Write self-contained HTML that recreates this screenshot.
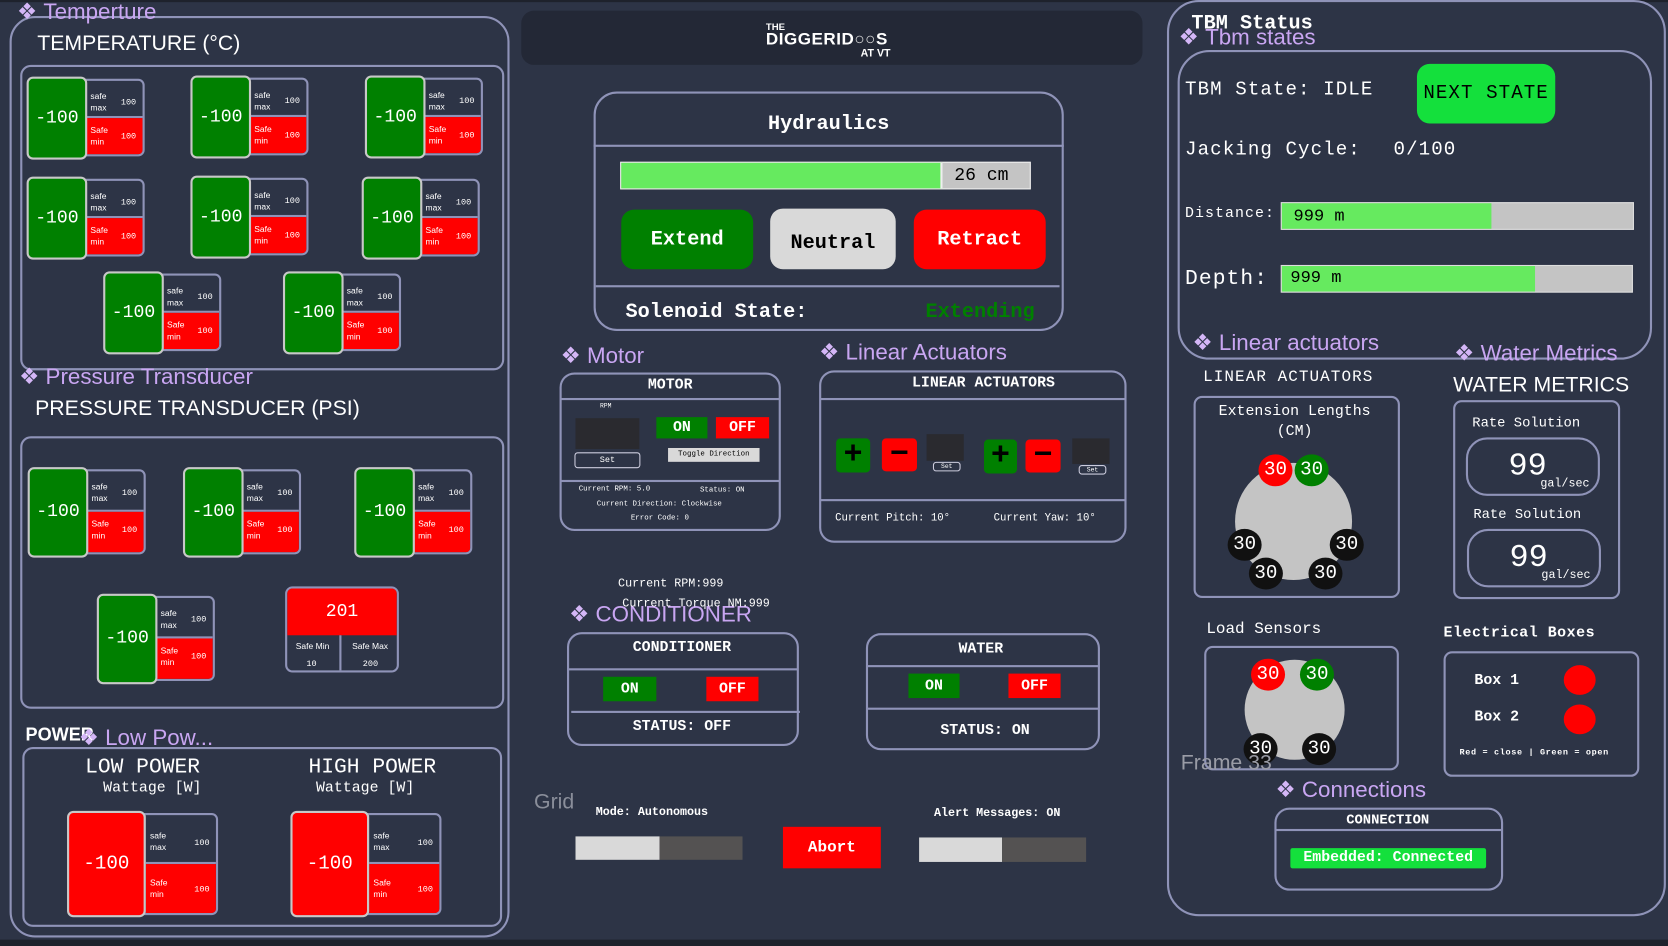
<!DOCTYPE html>
<html><head><meta charset="utf-8">
<style>
html,body{margin:0;padding:0;width:1668px;height:946px;overflow:hidden;background:#2d3446;}
#w{position:absolute;left:0;top:0;width:1568px;height:889px;transform:scale(1.06378,1.06412);transform-origin:0 0;background:#2d3446;font-family:"Liberation Mono",monospace;color:#fff;}
.a{position:absolute;}
.bx{position:absolute;border:2px solid #8f93b8;box-sizing:border-box;}
.lbl{position:absolute;font-family:"Liberation Sans",sans-serif;color:#c9a6f2;font-size:21px;white-space:nowrap;line-height:1;}
.lbl i{font-style:normal;color:#d4b6f7;font-size:21px;margin-right:6px;}
.t{position:absolute;white-space:nowrap;line-height:1;}
.hl{position:absolute;height:2px;background:#8f93b8;}
.g{position:absolute;width:112px;height:78px;}
.gv{position:absolute;left:0;top:0;width:57px;height:78px;background:#008000;border:2px solid #c8c8c8;box-sizing:border-box;border-radius:6px;font-size:17px;display:flex;align-items:center;justify-content:center;z-index:2;}
.gs{position:absolute;left:54px;top:2px;width:57px;height:73px;border:2px solid #8f93b8;box-sizing:border-box;border-radius:0 6px 6px 0;overflow:hidden;}
.gt,.gb{position:absolute;left:0;width:100%;height:50%;font-family:"Liberation Sans",sans-serif;font-size:8px;}
.gt{top:0;border-bottom:2px solid #8f93b8;box-sizing:border-box;}
.gb{top:50%;background:#ff0000;}
.gt span,.gb span{position:absolute;left:4px;top:9px;line-height:11px;}
.gb span{top:6px;}
.gt b,.gb b{position:absolute;right:6px;top:16px;font-family:"Liberation Mono",monospace;font-weight:normal;font-size:8px;}
.gb b{top:13px;}
.gr .gv{background:#ff0000;}
.big{width:142px;height:100px;}
.big .gv{width:74px;height:100px;font-size:18px;}
.big .gs{left:72px;top:2px;width:70px;height:96px;}
.big .gt span{top:14px}.big .gt b{top:22px}.big .gb span{top:12px}.big .gb b{top:20px}
.btn{position:absolute;display:flex;align-items:center;justify-content:center;font-weight:bold;}
.c{position:absolute;width:32px;height:30px;border-radius:50%;display:flex;align-items:center;justify-content:center;font-size:18px;color:#fff;}
</style></head><body><div id="w">
<div class="a" style="left:0;top:0;width:1568px;height:2px;background:#1e222c"></div>
<div class="a" style="left:0;top:883px;width:1568px;height:6px;background:#1e222c"></div>

<!-- LEFT -->
<div class="bx" style="left:9px;top:15px;width:470px;height:866px;border-radius:24px"></div>
<div class="lbl" style="left:16px;top:1px"><i>❖</i>Temperture</div>
<div class="t" style="left:35px;top:31px;font-family:'Liberation Sans',sans-serif;font-size:20px">TEMPERATURE (°C)</div>
<div class="bx" style="left:19px;top:61px;width:455px;height:287px;border-radius:10px"></div>

<div class="g" style="left:25px;top:72px"><div class="gv">-100</div><div class="gs"><div class="gt"><span>safe<br>max</span><b>100</b></div><div class="gb"><span>Safe<br>min</span><b>100</b></div></div></div>
<div class="g" style="left:179px;top:71px"><div class="gv">-100</div><div class="gs"><div class="gt"><span>safe<br>max</span><b>100</b></div><div class="gb"><span>Safe<br>min</span><b>100</b></div></div></div>
<div class="g" style="left:343px;top:71px"><div class="gv">-100</div><div class="gs"><div class="gt"><span>safe<br>max</span><b>100</b></div><div class="gb"><span>Safe<br>min</span><b>100</b></div></div></div>
<div class="g" style="left:25px;top:166px"><div class="gv">-100</div><div class="gs"><div class="gt"><span>safe<br>max</span><b>100</b></div><div class="gb"><span>Safe<br>min</span><b>100</b></div></div></div>
<div class="g" style="left:179px;top:165px"><div class="gv">-100</div><div class="gs"><div class="gt"><span>safe<br>max</span><b>100</b></div><div class="gb"><span>Safe<br>min</span><b>100</b></div></div></div>
<div class="g" style="left:340px;top:166px"><div class="gv">-100</div><div class="gs"><div class="gt"><span>safe<br>max</span><b>100</b></div><div class="gb"><span>Safe<br>min</span><b>100</b></div></div></div>
<div class="g" style="left:97px;top:255px"><div class="gv">-100</div><div class="gs"><div class="gt"><span>safe<br>max</span><b>100</b></div><div class="gb"><span>Safe<br>min</span><b>100</b></div></div></div>
<div class="g" style="left:266px;top:255px"><div class="gv">-100</div><div class="gs"><div class="gt"><span>safe<br>max</span><b>100</b></div><div class="gb"><span>Safe<br>min</span><b>100</b></div></div></div>

<div class="lbl" style="left:18px;top:344px"><i>❖</i>Pressure Transducer</div>
<div class="t" style="left:33px;top:374px;font-family:'Liberation Sans',sans-serif;font-size:20px">PRESSURE TRANSDUCER (PSI)</div>
<div class="bx" style="left:19px;top:410px;width:455px;height:256px;border-radius:10px"></div>
<div class="g" style="left:26px;top:439px"><div class="gv" style="height:85px">-100</div><div class="gs" style="top:2px;height:80px"><div class="gt"><span>safe<br>max</span><b>100</b></div><div class="gb"><span>Safe<br>min</span><b>100</b></div></div></div>
<div class="g" style="left:172px;top:439px"><div class="gv" style="height:85px">-100</div><div class="gs" style="top:2px;height:80px"><div class="gt"><span>safe<br>max</span><b>100</b></div><div class="gb"><span>Safe<br>min</span><b>100</b></div></div></div>
<div class="g" style="left:333px;top:439px"><div class="gv" style="height:85px">-100</div><div class="gs" style="top:2px;height:80px"><div class="gt"><span>safe<br>max</span><b>100</b></div><div class="gb"><span>Safe<br>min</span><b>100</b></div></div></div>
<div class="g" style="left:91px;top:558px"><div class="gv" style="height:85px">-100</div><div class="gs" style="top:2px;height:80px"><div class="gt"><span>safe<br>max</span><b>100</b></div><div class="gb"><span>Safe<br>min</span><b>100</b></div></div></div>
<div class="bx" style="left:268px;top:551px;width:107px;height:81px;border-radius:7px;overflow:hidden">
 <div class="a" style="left:0;top:0;width:103px;height:44px;background:#ff0000;display:flex;align-items:center;justify-content:center;font-size:17px">201</div>
 <div class="a" style="left:49px;top:44px;width:2px;height:40px;background:#8f93b8"></div>
 <div class="t" style="left:8px;top:51px;font-family:'Liberation Sans',sans-serif;font-size:8px">Safe Min</div>
 <div class="t" style="left:18px;top:68px;font-size:8px">10</div>
 <div class="t" style="left:61px;top:51px;font-family:'Liberation Sans',sans-serif;font-size:8px">Safe Max</div>
 <div class="t" style="left:71px;top:68px;font-size:8px">200</div>
</div>

<div class="t" style="left:24px;top:682px;font-family:'Liberation Sans',sans-serif;font-weight:bold;font-size:17px">POWER</div>
<div class="lbl" style="left:74px;top:683px"><i>❖</i>Low Pow...</div>
<div class="bx" style="left:21px;top:702px;width:451px;height:169px;border-radius:10px"></div>
<div class="t" style="left:80px;top:712px;font-size:20px">LOW POWER</div>
<div class="t" style="left:97px;top:734px;font-size:14px">Wattage [W]</div>
<div class="t" style="left:290px;top:712px;font-size:20px">HIGH POWER</div>
<div class="t" style="left:297px;top:734px;font-size:14px">Wattage [W]</div>
<div class="g big gr" style="left:63px;top:762px"><div class="gv">-100</div><div class="gs"><div class="gt"><span>safe<br>max</span><b>100</b></div><div class="gb"><span>Safe<br>min</span><b>100</b></div></div></div>
<div class="g big gr" style="left:273px;top:762px"><div class="gv">-100</div><div class="gs"><div class="gt"><span>safe<br>max</span><b>100</b></div><div class="gb"><span>Safe<br>min</span><b>100</b></div></div></div>

<!-- MIDDLE -->
<div class="a" style="left:490px;top:10px;width:584px;height:51px;background:#232836;border-radius:12px"></div>
<div class="t" style="left:720px;top:21px;font-family:'Liberation Sans',sans-serif;font-weight:bold;font-size:9px">THE</div>
<div class="t" style="left:720px;top:30px;font-family:'Liberation Sans',sans-serif;font-weight:bold;font-size:16px;letter-spacing:0.5px">DIGGERID<span style="color:#ddd">○○</span>S</div>
<div class="t" style="left:809px;top:46px;font-family:'Liberation Sans',sans-serif;font-weight:bold;font-size:10px">AT VT</div>

<div class="bx" style="left:558px;top:86px;width:442px;height:225px;border-radius:22px"></div>
<div class="t" style="left:558px;top:107px;width:442px;text-align:center;font-weight:bold;font-size:19px">Hydraulics</div>
<div class="hl" style="left:558px;top:136px;width:442px"></div>
<div class="a" style="left:583px;top:152px;width:386px;height:26px;background:#c4c4c4;border:1px solid #eee;box-sizing:border-box"></div>
<div class="a" style="left:584px;top:153px;width:300px;height:24px;background:#66ea5f;border-right:2px solid #eee"></div>
<div class="t" style="left:897px;top:157px;color:#000;font-size:17px">26 cm</div>
<div class="btn" style="left:584px;top:197px;width:124px;height:56px;background:#008000;border-radius:12px;font-size:19px">Extend</div>
<div class="btn" style="left:724px;top:196px;width:118px;height:57px;background:#d9d9d9;border-radius:12px;font-size:19px;color:#000;padding-top:6px;box-sizing:border-box">Neutral</div>
<div class="btn" style="left:859px;top:197px;width:124px;height:56px;background:#ff0000;border-radius:12px;font-size:19px">Retract</div>
<div class="hl" style="left:560px;top:268px;width:436px"></div>
<div class="t" style="left:588px;top:284px;font-weight:bold;font-size:19px">Solenoid State:</div>
<div class="t" style="left:870px;top:284px;font-weight:bold;font-size:19px;color:#008000">Extending</div>

<div class="lbl" style="left:527px;top:324px"><i>❖</i>Motor</div>
<div class="bx" style="left:526px;top:350px;width:208px;height:149px;border-radius:14px"></div>
<div class="t" style="left:526px;top:355px;width:208px;text-align:center;font-weight:bold;font-size:14px">MOTOR</div>
<div class="hl" style="left:527px;top:374px;width:206px"></div>
<div class="t" style="left:564px;top:379px;font-size:6px">RPM</div>
<div class="a" style="left:541px;top:393px;width:60px;height:29px;background:#2a2a2f"></div>
<div class="a" style="left:540px;top:425px;width:62px;height:15px;border:1px solid #ccd;border-radius:3px;box-sizing:border-box;font-size:8px;text-align:center;line-height:13px">Set</div>
<div class="btn" style="left:617px;top:392px;width:48px;height:20px;background:#008000;font-size:14px">ON</div>
<div class="btn" style="left:673px;top:392px;width:50px;height:20px;background:#ff0000;font-size:14px">OFF</div>
<div class="a" style="left:628px;top:421px;width:86px;height:13px;background:#d9d9d9;color:#000;font-size:7px;text-align:center;line-height:13px">Toggle Direction</div>
<div class="hl" style="left:527px;top:451px;width:206px"></div>
<div class="t" style="left:544px;top:457px;font-size:7px">Current RPM: 5.0</div>
<div class="t" style="left:658px;top:458px;font-size:7px">Status: ON</div>
<div class="t" style="left:561px;top:471px;font-size:7px">Current Direction: Clockwise</div>
<div class="t" style="left:593px;top:484px;font-size:7px">Error Code: 0</div>

<div class="lbl" style="left:770px;top:321px"><i>❖</i>Linear Actuators</div>
<div class="bx" style="left:770px;top:348px;width:289px;height:162px;border-radius:14px"></div>
<div class="t" style="left:770px;top:353px;width:309px;text-align:center;font-weight:bold;font-size:14px">LINEAR ACTUATORS</div>
<div class="hl" style="left:771px;top:374px;width:287px"></div>
<div class="btn" style="left:786px;top:412px;width:32px;height:32px;background:#008000;border-radius:4px;color:#000;font-size:30px">+</div>
<div class="btn" style="left:829px;top:412px;width:33px;height:31px;background:#ff0000;border-radius:4px;color:#000;font-size:30px">−</div>
<div class="a" style="left:871px;top:408px;width:35px;height:25px;background:#2a2a2f"></div>
<div class="a" style="left:877px;top:434px;width:24px;height:7px;border:1px solid #ccd;border-radius:3px;font-size:6px;text-align:center;line-height:7px">Set</div>
<div class="btn" style="left:925px;top:413px;width:31px;height:32px;background:#008000;border-radius:4px;color:#000;font-size:30px">+</div>
<div class="btn" style="left:964px;top:413px;width:33px;height:31px;background:#ff0000;border-radius:4px;color:#000;font-size:30px">−</div>
<div class="a" style="left:1008px;top:412px;width:35px;height:24px;background:#2a2a2f"></div>
<div class="a" style="left:1014px;top:437px;width:24px;height:7px;border:1px solid #ccd;border-radius:3px;font-size:6px;text-align:center;line-height:7px">Set</div>
<div class="hl" style="left:771px;top:469px;width:287px"></div>
<div class="t" style="left:785px;top:483px;font-size:10px">Current Pitch: 10°</div>
<div class="t" style="left:934px;top:483px;font-size:10px">Current Yaw: 10°</div>

<div class="t" style="left:581px;top:544px;font-size:11px">Current RPM:999</div>
<div class="lbl" style="left:535px;top:567px"><i>❖</i>CONDITIONER</div>
<div class="t" style="left:585px;top:563px;font-size:11px">Current Torque NM:999</div>
<div class="bx" style="left:533px;top:594px;width:218px;height:107px;border-radius:14px"></div>
<div class="t" style="left:533px;top:602px;width:216px;text-align:center;font-weight:bold;font-size:14px">CONDITIONER</div>
<div class="hl" style="left:534px;top:628px;width:216px"></div>
<div class="btn" style="left:567px;top:636px;width:50px;height:23px;background:#008000;font-size:14px">ON</div>
<div class="btn" style="left:664px;top:636px;width:49px;height:23px;background:#ff0000;font-size:14px">OFF</div>
<div class="hl" style="left:537px;top:668px;width:215px"></div>
<div class="t" style="left:533px;top:676px;width:216px;text-align:center;font-weight:bold;font-size:14px">STATUS: OFF</div>

<div class="bx" style="left:814px;top:595px;width:220px;height:110px;border-radius:14px"></div>
<div class="t" style="left:814px;top:603px;width:216px;text-align:center;font-weight:bold;font-size:14px">WATER</div>
<div class="hl" style="left:815px;top:625px;width:218px"></div>
<div class="btn" style="left:854px;top:633px;width:48px;height:23px;background:#008000;font-size:14px">ON</div>
<div class="btn" style="left:948px;top:633px;width:49px;height:23px;background:#ff0000;font-size:14px">OFF</div>
<div class="hl" style="left:815px;top:665px;width:218px"></div>
<div class="t" style="left:818px;top:680px;width:216px;text-align:center;font-weight:bold;font-size:14px">STATUS: ON</div>

<div class="t" style="left:502px;top:744px;font-family:'Liberation Sans',sans-serif;font-size:20px;color:#8a8e9a">Grid</div>
<div class="t" style="left:560px;top:759px;font-weight:bold;font-size:11px">Mode: Autonomous</div>
<div class="a" style="left:541px;top:786px;width:79px;height:22px;background:#d9d9d9"></div>
<div class="a" style="left:620px;top:786px;width:78px;height:22px;background:#545252"></div>
<div class="btn" style="left:736px;top:777px;width:92px;height:39px;background:#ff0000;font-size:15px">Abort</div>
<div class="t" style="left:878px;top:760px;font-weight:bold;font-size:11px">Alert Messages: ON</div>
<div class="a" style="left:864px;top:787px;width:78px;height:23px;background:#d9d9d9"></div>
<div class="a" style="left:942px;top:787px;width:79px;height:23px;background:#545252"></div>

<!-- RIGHT -->
<div class="bx" style="left:1097px;top:0px;width:469px;height:861px;border-radius:30px"></div>
<div class="t" style="left:1120px;top:13px;font-weight:bold;font-size:19px">TBM Status</div>
<div class="lbl" style="left:1108px;top:25px"><i>❖</i>Tbm states</div>
<div class="bx" style="left:1107px;top:47px;width:446px;height:291px;border-radius:30px"></div>
<div class="t" style="left:1114px;top:76px;font-size:18px;letter-spacing:1px">TBM State: IDLE</div>
<div class="btn" style="left:1332px;top:60px;width:130px;height:56px;background:#14e03c;border-radius:12px;color:#000;font-weight:normal;font-size:18px;letter-spacing:1px">NEXT STATE</div>
<div class="t" style="left:1114px;top:132px;font-size:18px;letter-spacing:1px">Jacking Cycle:</div>
<div class="t" style="left:1310px;top:132px;font-size:18px;letter-spacing:1px">0/100</div>
<div class="t" style="left:1114px;top:194px;font-size:14px;letter-spacing:1px">Distance:</div>
<div class="a" style="left:1204px;top:190px;width:332px;height:26px;background:#c4c4c4;border:1px solid #ddd;box-sizing:border-box"></div>
<div class="a" style="left:1205px;top:191px;width:197px;height:24px;background:#66ea5f"></div>
<div class="t" style="left:1216px;top:195px;color:#000;font-size:16px">999 m</div>
<div class="t" style="left:1114px;top:253px;font-size:20px;letter-spacing:1px">Depth:</div>
<div class="a" style="left:1204px;top:249px;width:331px;height:26px;background:#c4c4c4;border:1px solid #ddd;box-sizing:border-box"></div>
<div class="a" style="left:1205px;top:250px;width:238px;height:24px;background:#66ea5f"></div>
<div class="t" style="left:1213px;top:253px;color:#000;font-size:16px">999 m</div>

<div class="lbl" style="left:1121px;top:312px"><i>❖</i>Linear actuators</div>
<div class="lbl" style="left:1367px;top:322px"><i>❖</i>Water Metrics</div>
<div class="t" style="left:1131px;top:347px;font-size:15px;letter-spacing:1px">LINEAR ACTUATORS</div>
<div class="t" style="left:1366px;top:352px;font-family:'Liberation Sans',sans-serif;font-size:20px">WATER METRICS</div>

<div class="bx" style="left:1122px;top:372px;width:194px;height:190px;border-radius:8px"></div>
<div class="t" style="left:1122px;top:378px;width:190px;text-align:center;font-size:14px;line-height:19px;white-space:normal">Extension Lengths<br>(CM)</div>
<div class="a" style="left:1161px;top:435px;width:110px;height:110px;border-radius:50%;background:#c4c4c4"></div>
<div class="c" style="left:1183px;top:427px;background:#ff0000">30</div>
<div class="c" style="left:1217px;top:427px;background:#008000">30</div>
<div class="c" style="left:1154px;top:497px;background:#111">30</div>
<div class="c" style="left:1250px;top:497px;background:#111">30</div>
<div class="c" style="left:1174px;top:524px;background:#111">30</div>
<div class="c" style="left:1230px;top:524px;background:#111">30</div>

<div class="bx" style="left:1366px;top:376px;width:157px;height:187px;border-radius:8px"></div>
<div class="t" style="left:1384px;top:391px;font-size:13px">Rate Solution</div>
<div class="bx" style="left:1378px;top:411px;width:126px;height:55px;border-radius:20px"></div>
<div class="t" style="left:1418px;top:424px;font-size:30px">99</div>
<div class="t" style="left:1448px;top:450px;font-size:11px">gal/sec</div>
<div class="t" style="left:1385px;top:477px;font-size:13px">Rate Solution</div>
<div class="bx" style="left:1379px;top:497px;width:126px;height:55px;border-radius:20px"></div>
<div class="t" style="left:1419px;top:510px;font-size:30px">99</div>
<div class="t" style="left:1449px;top:536px;font-size:11px">gal/sec</div>

<div class="t" style="left:1134px;top:584px;font-size:15px">Load Sensors</div>
<div class="bx" style="left:1132px;top:607px;width:183px;height:117px;border-radius:8px"></div>
<div class="a" style="left:1170px;top:620px;width:94px;height:94px;border-radius:50%;background:#c4c4c4"></div>
<div class="c" style="left:1176px;top:619px;background:#ff0000">30</div>
<div class="c" style="left:1222px;top:619px;background:#008000">30</div>
<div class="c" style="left:1169px;top:689px;background:#111">30</div>
<div class="c" style="left:1224px;top:689px;background:#111">30</div>
<div class="t" style="left:1110px;top:707px;font-family:'Liberation Sans',sans-serif;font-size:20px;color:#9a9ca6">Frame 33</div>

<div class="t" style="left:1357px;top:588px;font-weight:bold;font-size:14px;letter-spacing:0.5px">Electrical Boxes</div>
<div class="bx" style="left:1357px;top:612px;width:184px;height:118px;border-radius:8px"></div>
<div class="t" style="left:1386px;top:633px;font-weight:bold;font-size:14px">Box 1</div>
<div class="a" style="left:1470px;top:625px;width:30px;height:28px;border-radius:50%;background:#ff0000"></div>
<div class="t" style="left:1386px;top:667px;font-weight:bold;font-size:14px">Box 2</div>
<div class="a" style="left:1470px;top:662px;width:30px;height:28px;border-radius:50%;background:#ff0000"></div>
<div class="t" style="left:1372px;top:704px;font-weight:bold;font-size:8px;letter-spacing:0.6px">Red = close  |  Green = open</div>

<div class="lbl" style="left:1199px;top:732px"><i>❖</i>Connections</div>
<div class="bx" style="left:1198px;top:759px;width:215px;height:78px;border-radius:14px"></div>
<div class="t" style="left:1198px;top:764px;width:213px;text-align:center;font-weight:bold;font-size:13px">CONNECTION</div>
<div class="hl" style="left:1199px;top:779px;width:213px"></div>
<div class="a" style="left:1213px;top:797px;width:184px;height:19px;background:#14e03c;border-radius:2px;font-weight:bold;font-size:14px;text-align:center;line-height:19px">Embedded: Connected</div>
</div></body></html>
